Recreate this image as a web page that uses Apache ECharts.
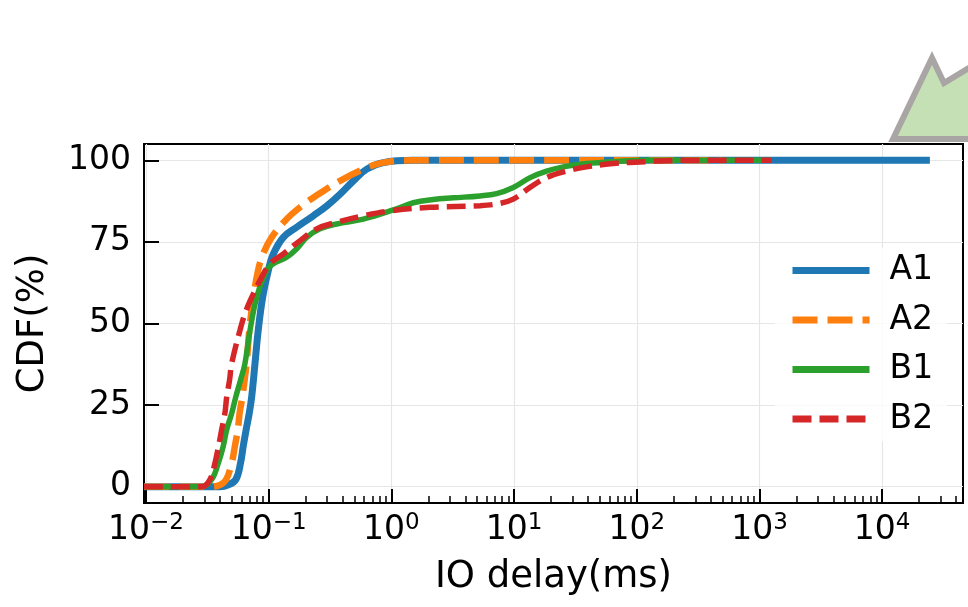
<!DOCTYPE html>
<html>
<head>
<meta charset="utf-8">
<script src="https://cdn.jsdelivr.net/npm/echarts@6/dist/echarts.min.js"></script>
<style>
  html, body { margin: 0; padding: 0; background: #ffffff; }
  #chart { width: 968px; height: 607px; }
</style>
</head>
<body>
<div id="chart"></div>
<script>
// IO delay (ms) and cumulative share (%) for each run
const seriesNames = ['A1', 'A2', 'B1', 'B2'];

const a1Delay = [0.00963, 0.040, 0.047, 0.054, 0.059, 0.062, 0.0655, 0.0695, 0.0727, 0.0773, 0.0822, 0.0893, 0.0993, 0.109, 0.1316, 0.169, 0.231, 0.297, 0.381, 0.49, 0.63, 0.86, 1.5, 24500];
const a1Cdf   = [0,       0,     0.6,   2.2,   7.3,   12.4,  17.5,   22.6,   27.6,   37.7,   48,     58.1,   66.3,   71.3,  76.4,   79.5,  83,    86,    89.6,  93.7, 97.3, 99.3, 100, 100];

const a2Delay = [0.00963, 0.033, 0.040, 0.045, 0.050, 0.053, 0.056, 0.058, 0.061, 0.066, 0.0695, 0.075, 0.082, 0.090, 0.1057, 0.136, 0.18, 0.254, 0.381, 0.59, 0.855, 1.5, 500];
const a2Cdf   = [0,       0,     0.5,   2.2,   7.3,   12.4,  17.5,  22.6,  27.6,  37.7,  48,     58,    66.3,  71.3,  76.4,   81.5,  85.6, 89.6,  93.7,  97.3, 99.3,  100, 100];

const b1Delay = [0.00963, 0.0284, 0.0343, 0.0389, 0.0426, 0.0455, 0.050, 0.054, 0.059, 0.064, 0.0705, 0.0798, 0.0964, 0.109, 0.14, 0.169, 0.204, 0.262, 0.358, 0.59, 1.04, 1.51, 2.2, 3.2, 5.28, 7.2, 9.85, 13.5, 18.4, 25.2, 38.9, 64, 120, 1260];
const b1Cdf   = [0,       0,      2.2,    7.3,    12.4,   17.5,   22.6,  27.6,  32.7,  37.7,  48,     58,     66.3,   68.3,  70.3, 72.9,  76.4,  79,    80.5,  82,   84.8, 87,   88,  88.5, 89.1, 89.8, 91.7, 94.7, 96.7, 98,   99,   99.6, 100, 100];

const b2Delay = [0.00963, 0.0284, 0.0332, 0.0365, 0.039, 0.0414, 0.044, 0.0455, 0.048, 0.0499, 0.0584, 0.064, 0.0727, 0.085, 0.1025, 0.1316, 0.18, 0.246, 0.358, 0.59, 0.975, 2.07, 5.28, 7.67, 9.85, 13.5, 18.4, 26.8, 38.9, 64, 120, 224, 1260];
const b2Cdf   = [0,       0,      2.2,    7.3,    12.4,  17.5,   22.6,  27.6,   32.7,  37.7,   48,     53,    58,     63.2,  68.3,   71.3,   75.4, 79,    81,    83,   84.5,  85.6, 86.1, 86.8, 88.1, 91.7, 94.7, 96.7, 98,   99,  99.6, 100, 100];

// axis ticks
const xMajorTicks = [0.01, 0.1, 1, 10, 100, 1000, 10000];
const xTickExponents = ['−2', '−1', '0', '1', '2', '3', '4'];
const yTicks = [0, 25, 50, 75, 100];

const xMin = 0.00963;
const xMax = 45600;

// minor ticks at 2..9 of every decade inside the axis range
const xMinorTicks = [];
for (let k = -2; k <= 4; k++) {
  for (let m = 2; m <= 9; m++) {
    const v = m * Math.pow(10, k);
    if (v > xMin && v < xMax) xMinorTicks.push(v);
  }
}

const toPairs = (xs, ys) => xs.map((x, i) => [x, ys[i]]);

const colors = ['#1f77b4', '#ff7f0e', '#2ca02c', '#d62728'];
const widths = [7, 6.5, 5.5, 5.5];
const dashes = ['solid', [25, 10], 'solid', [19, 8]];
const seriesData = [
  toPairs(a1Delay, a1Cdf),
  toPairs(a2Delay, a2Cdf),
  toPairs(b1Delay, b1Cdf),
  toPairs(b2Delay, b2Cdf)
];

const font = 'DejaVu Sans';

const chart = echarts.init(document.getElementById('chart'), null, { renderer: 'canvas' });

chart.setOption({
  animation: false,
  backgroundColor: '#ffffff',
  textStyle: { fontFamily: font, color: '#000' },
  grid: {
    left: 144, right: 5, top: 144, bottom: 104,
    show: true, borderColor: '#000', borderWidth: 2, backgroundColor: 'transparent'
  },
  xAxis: [
    {
      type: 'log',
      min: xMin,
      max: xMax,
      position: 'bottom',
      name: 'IO delay(ms)',
      nameLocation: 'middle',
      nameGap: 56,
      nameTextStyle: { fontFamily: font, fontSize: 37, color: '#000' },
      axisLine: { show: true, onZero: false, lineStyle: { color: '#000', width: 2 } },
      axisTick: {
        show: true, inside: true, length: 14,
        customValues: xMajorTicks,
        lineStyle: { color: '#000', width: 2 }
      },
      axisLabel: {
        show: true,
        customValues: xMajorTicks,
        margin: 9,
        formatter: (v) => {
          const i = xMajorTicks.findIndex(t => Math.abs(Math.log10(t) - Math.log10(v)) < 1e-6);
          return '{b|10}{s|' + xTickExponents[i] + '}';
        },
        rich: {
          b: { fontFamily: font, fontSize: 33, color: '#000', lineHeight: 36 },
          s: { fontFamily: font, fontSize: 23, color: '#000', lineHeight: 24, verticalAlign: 'top' }
        }
      },
      splitLine: { show: true, lineStyle: { color: '#e6e6e6', width: 1.2 } }
    },
    {
      type: 'log',
      min: xMin,
      max: xMax,
      position: 'bottom',
      axisLine: { show: false, onZero: false },
      axisTick: {
        show: true, inside: true, length: 7,
        customValues: xMinorTicks,
        lineStyle: { color: '#000', width: 1.5 }
      },
      axisLabel: { show: false },
      splitLine: { show: false }
    }
  ],
  yAxis: {
    type: 'value',
    min: -5,
    max: 105,
    name: 'CDF(%)',
    nameLocation: 'middle',
    nameGap: 92,
    nameRotate: 90,
    nameTextStyle: { fontFamily: font, fontSize: 37, color: '#000' },
    axisLine: { show: true, onZero: false, lineStyle: { color: '#000', width: 2 } },
    axisTick: {
      show: true, inside: true, length: 15,
      customValues: yTicks,
      lineStyle: { color: '#000', width: 2 }
    },
    axisLabel: {
      show: true, customValues: yTicks, margin: 13,
      fontFamily: font, fontSize: 33, color: '#000'
    },
    splitLine: { show: true, lineStyle: { color: '#e6e6e6', width: 1.2 } }
  },
  legend: {
    orient: 'vertical',
    left: 775,
    top: 248,
    itemWidth: 77,
    itemHeight: 14,
    itemGap: 16.5,
    padding: [6, 14, 6, 14],
    backgroundColor: 'rgba(255,255,255,0.8)',
    borderWidth: 0,
    itemStyle: { opacity: 0 },
    lineStyle: { width: 7 },
    textStyle: { fontFamily: font, fontSize: 33, color: '#000', lineHeight: 33, padding: [0, 0, 0, 15] },
    data: seriesNames
  },
  graphic: [
    {
      type: 'polygon',
      z: 100,
      shape: { points: [[893, 139], [932, 58], [944, 83], [995, 52], [995, 139]] },
      style: { fill: '#c5e0b4', stroke: '#a9a5a5', lineWidth: 6, lineJoin: 'miter' }
    }
  ],
  series: seriesNames.map((name, i) => ({
    name: name,
    type: 'line',
    xAxisIndex: 0,
    data: seriesData[i],
    showSymbol: false,
    symbol: 'none',
    smooth: 0.4,
    clip: true,
    z: 2 + i,
    lineStyle: { color: colors[i], width: widths[i], type: dashes[i], cap: 'butt' },
    itemStyle: { color: colors[i] }
  }))
});
</script>
</body>
</html>
